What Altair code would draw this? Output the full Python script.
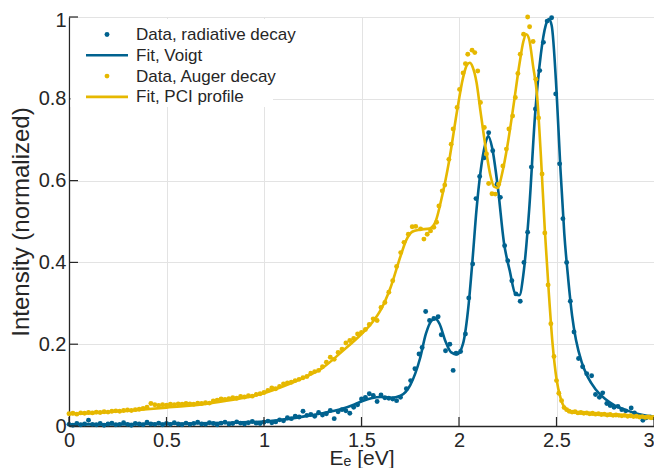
import altair as alt
import pandas as pd

BLUE = "#00628f"
YELLOW = "#e6b800"
INK = "#262626"
FONT = "Liberation Sans"

# ---------------- data ----------------
# Radiative decay data: regular part 0.00 .. 1.70 (step 0.02)
rad_x_low = [round(0.02 * i, 2) for i in range(86)]
rad_y_low = [0.004, 0.002, 0.006, 0.003, 0.005, 0.014, 0.004, 0.003, 0.006, 0.002,
             0.005, 0.007, 0.003, 0.004, 0.008, 0.004, 0.002, 0.006, 0.005, 0.003,
             0.009, 0.005, 0.004, 0.007, 0.003, 0.006, 0.004, 0.008, 0.005, 0.003,
             0.007, 0.004, 0.006, 0.009, 0.005, 0.004, 0.008, 0.006, 0.003, 0.007,
             0.009, 0.005, 0.006, 0.010, 0.007, 0.005, 0.008, 0.011, 0.007, 0.006,
             0.009, 0.012, 0.008, 0.010, 0.015, 0.013, 0.020, 0.018, 0.024, 0.022,
             0.036, 0.026, 0.028, 0.024, 0.033, 0.027, 0.030, 0.038, 0.018, 0.035,
             0.040, 0.037, 0.031, 0.046, 0.052, 0.066, 0.070, 0.079, 0.075, 0.060,
             0.076, 0.069, 0.068, 0.066, 0.062, 0.070]
rad_x_high = [1.730, 1.752, 1.774, 1.795, 1.811, 1.829, 1.849, 1.871, 1.893, 1.909,
              1.931, 1.953, 1.970, 1.985, 2.008, 2.033, 2.050, 2.070, 2.087, 2.106,
              2.130, 2.152, 2.173, 2.195, 2.212, 2.234, 2.250, 2.271, 2.292, 2.314,
              2.333, 2.352, 2.371, 2.392, 2.414, 2.433, 2.452, 2.475, 2.496, 2.516,
              2.533, 2.552, 2.571, 2.590, 2.613, 2.634, 2.655, 2.680, 2.700, 2.720,
              2.737, 2.758, 2.775, 2.795, 2.815, 2.835, 2.855, 2.883, 2.900, 2.920,
              2.943, 2.960, 2.980, 3.000]
rad_y_high = [0.091, 0.111, 0.140, 0.176, 0.192, 0.280, 0.258, 0.263, 0.267, 0.223,
              0.184, 0.200, 0.136, 0.178, 0.182, 0.225, 0.313, 0.396, 0.556, 0.610,
              0.656, 0.717, 0.673, 0.591, 0.559, 0.441, 0.404, 0.355, 0.323, 0.305,
              0.400, 0.474, 0.633, 0.775, 0.869, 0.938, 0.990, 0.998, 0.812, 0.641,
              0.507, 0.400, 0.305, 0.230, 0.165, 0.145, 0.128, 0.123, 0.077, 0.070,
              0.081, 0.055, 0.050, 0.046, 0.048, 0.040, 0.037, 0.044, 0.032, 0.026,
              0.014, 0.020, 0.022, 0.020]

# Voigt fit
voigt_x = [0.0, 0.2, 0.4, 0.6, 0.8, 1.0, 1.1, 1.2, 1.3, 1.4, 1.45, 1.5, 1.55, 1.6, 1.65,
           1.7, 1.75, 1.8, 1.83, 1.86, 1.88, 1.9, 1.93, 1.96, 1.99, 2.02, 2.05, 2.07, 2.09,
           2.11, 2.135, 2.15, 2.17, 2.2, 2.23, 2.26, 2.29, 2.31, 2.33, 2.36, 2.39, 2.42,
           2.445, 2.46, 2.475, 2.5, 2.52, 2.54, 2.56, 2.58, 2.6, 2.63, 2.66, 2.7, 2.75,
           2.8, 2.85, 2.9, 2.95, 3.0]
voigt_y = [0.004, 0.004, 0.005, 0.006, 0.008, 0.011, 0.016, 0.023, 0.031, 0.042, 0.05,
           0.06, 0.068, 0.071, 0.069, 0.074, 0.1, 0.165, 0.225, 0.258, 0.262, 0.25, 0.208,
           0.18, 0.175, 0.2, 0.3, 0.41, 0.53, 0.62, 0.69, 0.709, 0.68, 0.58, 0.45, 0.38,
           0.322, 0.32, 0.37, 0.53, 0.76, 0.91, 0.98, 0.995, 0.98, 0.82, 0.63, 0.47, 0.36,
           0.27, 0.21, 0.155, 0.12, 0.09, 0.066, 0.05, 0.04, 0.032, 0.026, 0.022]

# Auger decay data
aug_x_low = [round(0.02 * i, 2) for i in range(85)]
aug_y_low = [0.030, 0.031, 0.029, 0.032, 0.031, 0.033, 0.032, 0.034, 0.033, 0.035,
             0.034, 0.036, 0.037, 0.036, 0.038, 0.039, 0.038, 0.040, 0.041, 0.043,
             0.046, 0.055, 0.052, 0.050, 0.052, 0.051, 0.053, 0.052, 0.054, 0.053,
             0.055, 0.054, 0.053, 0.056, 0.055, 0.057, 0.056, 0.061, 0.063, 0.066,
             0.065, 0.067, 0.069, 0.068, 0.072, 0.071, 0.074, 0.073, 0.077, 0.079,
             0.082, 0.087, 0.093, 0.091, 0.097, 0.103, 0.105, 0.107, 0.111, 0.114,
             0.118, 0.121, 0.129, 0.133, 0.136, 0.145, 0.156, 0.168, 0.163, 0.180,
             0.188, 0.203, 0.209, 0.214, 0.225, 0.229, 0.236, 0.248, 0.262, 0.258,
             0.290, 0.302, 0.327, 0.355, 0.390]
aug_x_mid = [1.701, 1.718, 1.740, 1.760, 1.778, 1.803, 1.820, 1.837, 1.854, 1.871,
             1.885, 1.897, 1.914, 1.927, 1.948, 1.960, 1.970, 1.990, 2.003, 2.021,
             2.033, 2.045, 2.067, 2.081, 2.096, 2.110, 2.130, 2.141, 2.152, 2.169,
             2.186, 2.203, 2.225, 2.243, 2.256, 2.275, 2.289, 2.302, 2.314, 2.331,
             2.352, 2.362, 2.380, 2.394, 2.408, 2.426, 2.440, 2.457, 2.471, 2.487,
             2.500, 2.512, 2.526, 2.539, 2.552]
aug_y_mid = [0.424, 0.449, 0.469, 0.487, 0.488, 0.482, 0.457, 0.469, 0.477, 0.486,
             0.498, 0.538, 0.575, 0.589, 0.652, 0.689, 0.726, 0.779, 0.823, 0.863,
             0.886, 0.909, 0.919, 0.913, 0.868, 0.791, 0.730, 0.665, 0.593, 0.568,
             0.567, 0.591, 0.636, 0.677, 0.726, 0.758, 0.803, 0.862, 0.909, 0.958,
             1.000, 0.976, 0.940, 0.848, 0.753, 0.616, 0.472, 0.345, 0.250, 0.170,
             0.111, 0.080, 0.062, 0.045, 0.040]
aug_x_tail = [round(2.565 + 0.015 * i, 3) for i in range(30)]
aug_y_tail = [0.036, 0.034, 0.035, 0.032, 0.033, 0.031, 0.032, 0.030, 0.031, 0.029,
              0.030, 0.028, 0.029, 0.027, 0.028, 0.026, 0.027, 0.026, 0.025, 0.026,
              0.024, 0.025, 0.023, 0.024, 0.022, 0.023, 0.021, 0.022, 0.020, 0.021]

# PCI profile fit
pci_x = [0.0, 0.2, 0.4, 0.5, 0.6, 0.7, 0.8, 0.9, 1.0, 1.1, 1.2, 1.3, 1.4, 1.5, 1.55, 1.6,
         1.65, 1.7, 1.73, 1.76, 1.8, 1.85, 1.88, 1.91, 1.95, 1.99, 2.02, 2.04, 2.055, 2.07,
         2.09, 2.11, 2.14, 2.16, 2.18, 2.2, 2.22, 2.25, 2.28, 2.31, 2.33, 2.345, 2.36,
         2.38, 2.4, 2.42, 2.44, 2.46, 2.48, 2.5, 2.52, 2.54, 2.57, 2.62, 2.7, 2.8, 2.9, 3.0]
pci_y = [0.029, 0.034, 0.041, 0.045, 0.049, 0.054, 0.061, 0.069, 0.08, 0.097, 0.117,
         0.142, 0.182, 0.225, 0.25, 0.285, 0.34, 0.415, 0.455, 0.475, 0.48, 0.483, 0.5,
         0.555, 0.65, 0.77, 0.85, 0.882, 0.888, 0.878, 0.84, 0.77, 0.67, 0.615, 0.585,
         0.582, 0.615, 0.69, 0.785, 0.885, 0.94, 0.958, 0.945, 0.88, 0.81, 0.66, 0.48,
         0.33, 0.2, 0.115, 0.07, 0.046, 0.035, 0.031, 0.028, 0.026, 0.024, 0.022]

x_ticks = [0, 0.5, 1, 1.5, 2, 2.5, 3]
y_ticks = [0, 0.2, 0.4, 0.6, 0.8, 1]
legend_labels = ["Data, radiative decay", "Fit, Voigt", "Data, Auger decay", "Fit, PCI profile"]
legend_colors = [BLUE, BLUE, YELLOW, YELLOW]
legend_kinds = ["dot", "line", "dot", "line"]

# ---------------- tables ----------------
rad = pd.DataFrame({"E": rad_x_low + rad_x_high, "I": rad_y_low + rad_y_high})
voigt = pd.DataFrame({"E": voigt_x, "I": voigt_y})
aug = pd.DataFrame({"E": aug_x_low + aug_x_mid + aug_x_tail,
                    "I": aug_y_low + aug_y_mid + aug_y_tail})
pci = pd.DataFrame({"E": pci_x, "I": pci_y})
xt = pd.DataFrame({"E": x_ticks})
yt = pd.DataFrame({"I": y_ticks})

W, H = 585, 409
xs = alt.Scale(domain=[0, 3], nice=False, zero=False)
ys = alt.Scale(domain=[0, 1], nice=False, zero=False)

X_AXIS = alt.Axis(
    values=x_ticks, format="~g", title="Eₑ [eV]", grid=True, ticks=False, tickSize=0,
    labelPadding=4, labelFlush=False,
    labelAlign={"condition": {"test": "datum.value >= 3", "value": "right"}, "value": "center"},
    titleFontSize=21, titleY=38.5, titleBaseline="alphabetic")
Y_AXIS = alt.Axis(
    values=y_ticks, format="~g", title="Intensity (normalized)", grid=True,
    ticks=False, tickSize=0, labelPadding=3, titlePadding=5, labelFlush=False,
    labelBaseline={"condition": {"test": "datum.value >= 1", "value": "top"}, "value": "middle"},
    labelOffset={"condition": {"test": "datum.value >= 1", "value": -7}, "value": 0},
    titleFontSize=24)


def X():
    return alt.X("E:Q", scale=xs, axis=X_AXIS)


def Y():
    return alt.Y("I:Q", scale=ys, axis=Y_AXIS)


PT = 24
LW = 2.6

rad_pts = alt.Chart(rad).mark_circle(size=PT, opacity=1, color=BLUE).encode(x=X(), y=Y())
voigt_line = alt.Chart(voigt).mark_line(color=BLUE, strokeWidth=LW, interpolate="monotone").encode(
    x=X(), y=Y())
aug_pts = alt.Chart(aug).mark_circle(size=PT, opacity=1, color=YELLOW).encode(x=X(), y=Y())
pci_line = alt.Chart(pci).mark_line(color=YELLOW, strokeWidth=LW, interpolate="monotone").encode(
    x=X(), y=Y())

# inward ticks (MATLAB style)
TL = 9
xtick_layer = alt.Chart(xt).mark_rule(color=INK, strokeWidth=1.2).encode(
    x=X(), y=alt.value(H), y2=alt.value(H - TL))
ytick_layer = alt.Chart(yt).mark_rule(color=INK, strokeWidth=1.2).encode(
    y=Y(), x=alt.value(0), x2=alt.value(TL))

# legend (drawn as a layout element)
leg_layers = [
    alt.Chart(pd.DataFrame({"k": [0]})).mark_rect(color="white").encode(
        x=alt.value(1.5), x2=alt.value(204), y=alt.value(2), y2=alt.value(90))
]
row0, dy = 17.5, 20.8
for i, (lab, col, kind) in enumerate(zip(legend_labels, legend_colors, legend_kinds)):
    yy = row0 + dy * i
    d = pd.DataFrame({"label": [lab]})
    if kind == "dot":
        leg_layers.append(alt.Chart(d).mark_circle(size=PT, opacity=1, color=col).encode(
            x=alt.value(38), y=alt.value(yy)))
    else:
        leg_layers.append(alt.Chart(d).mark_rule(color=col, strokeWidth=LW).encode(
            x=alt.value(17), x2=alt.value(59), y=alt.value(yy)))
    leg_layers.append(alt.Chart(d).mark_text(
        align="left", baseline="middle", font=FONT, fontSize=17, color=INK).encode(
        x=alt.value(67), y=alt.value(yy + 0.5), text="label:N"))

chart = alt.layer(
    rad_pts, voigt_line, aug_pts, pci_line, xtick_layer, ytick_layer, *leg_layers
).properties(
    width=W, height=H,
    padding={"left": 61, "top": 9, "right": 0, "bottom": 42},
    autosize=alt.AutoSizeParams(type="none"),
    background="white",
).configure_view(stroke=None).configure_axis(
    labelFont=FONT, titleFont=FONT, labelFontSize=20,
    titleFontWeight="normal", labelColor=INK, titleColor=INK,
    domainColor=INK, domainWidth=1.3, gridColor="#e3e3e3", gridWidth=1,
)

chart.save("out.html", embed_options={"renderer": "svg", "actions": False})
